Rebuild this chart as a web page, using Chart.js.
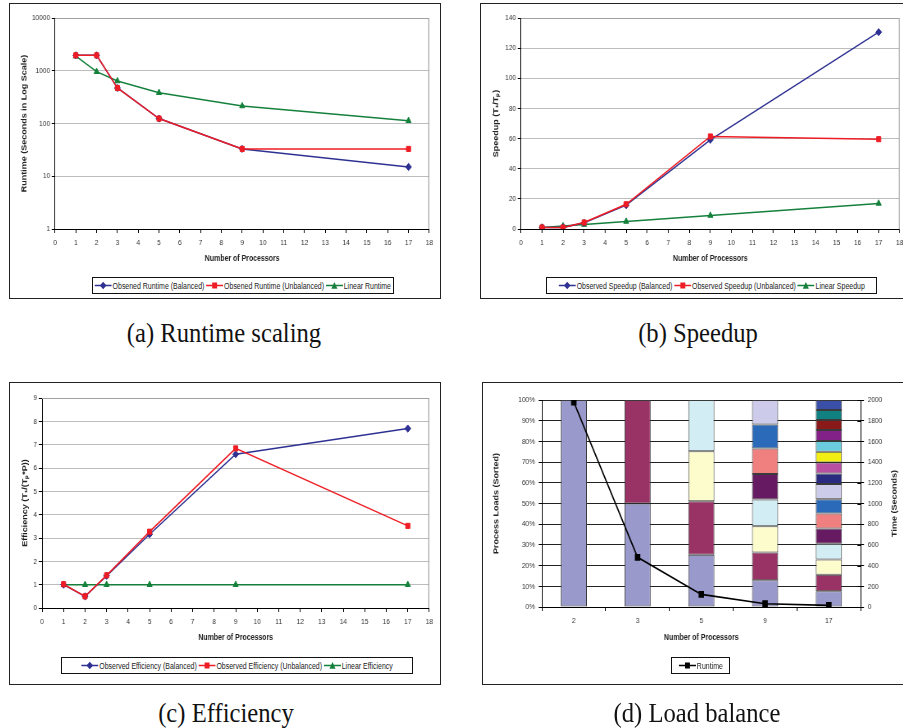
<!DOCTYPE html>
<html><head><meta charset="utf-8">
<script src="https://cdn.jsdelivr.net/npm/chart.js@4.4.1/dist/chart.umd.min.js"></script>
<style>
html,body{margin:0;padding:0;background:#fff;width:903px;height:728px;overflow:hidden;position:relative;}
.frame{position:absolute;border:1px solid #222;box-sizing:border-box;}
canvas{position:absolute;display:block;}
.legend{position:absolute;border:1px solid #111;box-sizing:border-box;display:flex;align-items:center;justify-content:center;background:#fff;}
.legend .inner{display:flex;align-items:center;white-space:nowrap;font:8.5px 'Liberation Sans',Arial,sans-serif;color:#222;transform:scaleX(0.82);transform-origin:center;flex:none;}
.legend .item{display:flex;align-items:center;margin:0 1px;}
.legend svg{margin-right:1px;}
.caption{position:absolute;font:28px 'Liberation Serif','Times New Roman',serif;line-height:32px;color:#111;white-space:nowrap;transform:translateX(-50%) scaleX(0.88);transform-origin:center;}
</style></head><body>
<div class="frame" style="left:9px;top:3px;width:432px;height:296px"></div>
<div class="frame" style="left:480px;top:3px;width:450px;height:296px"></div>
<div class="frame" style="left:9px;top:382px;width:432px;height:303px"></div>
<div class="frame" style="left:482px;top:382px;width:450px;height:303px"></div>
<canvas id="cA"></canvas>
<canvas id="cB"></canvas>
<canvas id="cC"></canvas>
<canvas id="cD"></canvas>
<div class="legend" id="lA" style="left:92px;top:277px;width:302px;height:17px"></div>
<div class="legend" id="lB" style="left:546px;top:277px;width:331px;height:17px"></div>
<div class="legend" id="lC" style="left:61px;top:657px;width:352px;height:17px"></div>
<div class="legend" id="lD" style="left:671px;top:657px;width:59px;height:17px"></div>
<div class="caption" style="left:224px;top:317px">(a) Runtime scaling</div>
<div class="caption" style="left:698px;top:317px">(b) Speedup</div>
<div class="caption" style="left:226px;top:697px">(c) Efficiency</div>
<div class="caption" style="left:697px;top:697px">(d) Load balance</div>
<script>
// ---------- data ----------
const processors = [1, 2, 3, 5, 9, 17];

const runtimeBalanced   = [1960, 1960, 471, 124, 33, 15];
const runtimeUnbalanced = [1960, 1960, 471, 124, 33, 33];
const runtimeLinear     = [1900, 960, 640, 384, 215, 113];
const runtimeTicks = [1, 10, 100, 1000, 10000];
const runtimeNames = ['Obsened Runtime (Balanced)', 'Obsened Runtime (Unbalanced)', 'Linear Runtime'];

const speedupBalanced   = [1, 1, 4.1, 15.8, 59.2, 130.6];
const speedupUnbalanced = [1, 1, 4.3, 16.4, 61.4, 59.6];
const speedupLinear     = [1, 2, 3, 5, 9, 17];
const speedupNames = ['Observed Speedup (Balanced)', 'Observed Speedup (Unbalanced)', 'Linear Speedup'];

const efficiencyBalanced   = [1, 0.5, 1.38, 3.16, 6.59, 7.69];
const efficiencyUnbalanced = [1.02, 0.5, 1.4, 3.27, 6.84, 3.52];
const efficiencyLinear     = [1, 1, 1, 1, 1, 1];
const efficiencyNames = ['Observed Efficiency (Balanced)', 'Observed Efficiency (Unbalanced)', 'Linear Efficiency'];

const loadCategories = ['2', '3', '5', '9', '17'];
const loads2  = [100];
const loads3  = [50, 50];
const loads5  = [25.3, 25.8, 24.2, 24.7];
const loads9  = [12.9, 13.4, 12.7, 12.9, 12.3, 12.4, 11.6, 11.8];
const loads17 = [7.6, 8.0, 7.4, 7.6, 7.3, 7.3, 6.9, 7.3, 5.1, 5.3, 5.2, 5.2, 5.3, 4.8, 4.9, 4.8];
const loadRuntime = [1980, 480, 122, 32, 16];
const loadRuntimeName = 'Runtime';

const xTitle = 'Number of Processors';

// ---------- styles ----------
const K = 0.82; // horizontal squeeze of every panel
const FONT = "'Liberation Sans',Arial,sans-serif";
const BLUE = '#2e3192', RED = '#ee1c24', GREEN = '#14803c';
const segColors = ['#9999cc','#993366','#fcfccc','#d2edf3','#661a62','#f08080','#2a6ab8','#ccccea',
                   '#2a2a80','#b84fa0','#f2ee14','#6accdc','#822288','#8a1a1a','#108080','#3a50a8'];

// ---------- plugins ----------
const plotBorder = {
  id: 'plotBorder',
  beforeDatasetsDraw(chart) {
    const {ctx, chartArea: a} = chart;
    ctx.save();
    ctx.strokeStyle = '#a0a0a0'; ctx.lineWidth = 1.2;
    const l = a.left, r = a.right - 0.6, t = Math.round(a.top) + 0.5, b = a.bottom;
    ctx.beginPath(); ctx.moveTo(l, t); ctx.lineTo(r, t); ctx.lineTo(r, b); ctx.stroke();
    ctx.restore();
  }
};
const rightAxisExtras = {
  id: 'rightAxisExtras',
  afterDraw(chart) {
    const s = chart.scales.y2; if (!s) return;
    const {ctx, chartArea: a} = chart;
    ctx.save();
    ctx.strokeStyle = '#000'; ctx.lineWidth = 1;
    s.ticks.forEach(t => {
      const y = Math.round(s.getPixelForValue(t.value)) + 0.5;
      ctx.beginPath(); ctx.moveTo(a.right - 4, y); ctx.lineTo(a.right, y); ctx.stroke();
    });
    ctx.translate(a.right + 34 / K, (a.top + a.bottom) / 2);
    ctx.rotate(-Math.PI / 2);
    ctx.fillStyle = '#222';
    ctx.font = 'bold 9px ' + FONT;
    ctx.textAlign = 'center'; ctx.textBaseline = 'middle';
    ctx.fillText(s.options.title.text, 0, 0);
    ctx.restore();
  }
};

// ---------- helpers ----------
// cv: canvas rect on page, returns canvas whose internal width is stretched by 1/K
function place(id, cv) {
  const c = document.getElementById(id);
  const wi = Math.round(cv.w / K);
  c.style.left = cv.x + 'px'; c.style.top = cv.y + 'px';
  c.style.width = cv.w + 'px'; c.style.height = cv.h + 'px';
  c.width = wi; c.height = cv.h;
  return c;
}
const ix = (cv, px) => (px - cv.x) / K; // page x -> internal canvas x

function pts(ys) { return processors.map((p, i) => ({x: p, y: ys[i]})); }
function series(label, ys, color, shape, order) {
  return {label, data: pts(ys), borderColor: color, backgroundColor: color,
    borderWidth: 1.5, pointStyle: shape, pointRadius: 3.6, pointBorderWidth: 1,
    pointBackgroundColor: color, pointBorderColor: color, tension: 0, order};
}
function lineChart(id, cv, area, datasets, yOpts, yTitle, yTitleX) {
  const xH = 36;
  const canvas = place(id, cv);
  const wi = canvas.width;
  const left = ix(cv, area.x0), right = ix(cv, area.x1);
  return new Chart(canvas, {
    type: 'line',
    data: {datasets},
    options: {
      responsive: false, animation: false, devicePixelRatio: 1,
      layout: {padding: {left: 0, top: area.y0 - cv.y, right: wi - right, bottom: cv.y + cv.h - area.y1 - xH}},
      plugins: {legend: {display: false}, tooltip: {enabled: false}},
      scales: {
        x: {type: 'linear', min: 0, max: 18,
          ticks: {stepSize: 1, padding: 5, autoSkip: false, maxRotation: 0, color: '#333', font: {family: FONT, size: 8}},
          grid: {drawOnChartArea: false, tickLength: 4, tickColor: '#000'},
          border: {color: '#000'},
          title: {display: true, text: xTitle, color: '#222', font: {family: FONT, size: 8.5, weight: 'bold'}, padding: {top: 0, bottom: 1}},
          afterFit: s => { s.height = xH; }},
        y: Object.assign({
          ticks: Object.assign({padding: 2, color: '#333', font: {family: FONT, size: 8}}, yOpts.ticks || {}),
          grid: {color: c => c.index === 0 ? 'rgba(0,0,0,0)' : '#bdbdbd', tickColor: '#000', tickLength: 4},
          border: {color: '#000'},
          title: {display: true, text: yTitle, color: '#222', font: {family: FONT, size: 9, weight: 'bold'},
                  padding: {top: ix(cv, yTitleX) - 5.4, bottom: 0}},
          afterFit: s => { s.width = left; }
        }, yOpts.scale)
      }
    },
    plugins: [plotBorder]
  });
}
function marker(color, shape) {
  let m = '';
  if (shape === 'rectRot') m = `<polygon points="10.5,0.8 14.5,4.5 10.5,8.2 6.5,4.5" fill="${color}"/>`;
  else if (shape === 'rect') m = `<rect x="7.5" y="1.5" width="6" height="6" fill="${color}"/>`;
  else m = `<polygon points="10.5,1 14.2,7.8 6.8,7.8" fill="${color}"/>`;
  return `<svg width="21" height="9" viewBox="0 0 21 9"><line x1="0" y1="4.5" x2="21" y2="4.5" stroke="${color}" stroke-width="1.5"/>${m}</svg>`;
}
function legend(id, items) {
  const el = document.getElementById(id);
  const inner = document.createElement('div');
  inner.className = 'inner';
  items.forEach(it => {
    const s = document.createElement('span');
    s.className = 'item';
    s.innerHTML = marker(it.color, it.shape) + '<span>' + it.label + '</span>';
    inner.appendChild(s);
  });
  el.appendChild(inner);
}
const shapes = ['rectRot', 'rect', 'triangle'];
const colors = [BLUE, RED, GREEN];

// ---------- (a) runtime ----------
lineChart('cA', {x: 10, y: 4, w: 430, h: 294}, {x0: 55, x1: 429, y0: 18, y1: 229}, [
  series(runtimeNames[0], runtimeBalanced, BLUE, 'rectRot', 1),
  series(runtimeNames[1], runtimeUnbalanced, RED, 'rect', 0),
  series(runtimeNames[2], runtimeLinear, GREEN, 'triangle', 2)
], {scale: {type: 'logarithmic', min: 1, max: 10000,
            afterBuildTicks: s => { s.ticks = runtimeTicks.map(v => ({value: v})); }},
    ticks: {callback: v => String(v)}},
  'Runtime (Seconds in Log Scale)', 24);
legend('lA', runtimeNames.map((l, i) => ({label: l, color: colors[i], shape: shapes[i]})));

// ---------- (b) speedup ----------
lineChart('cB', {x: 481, y: 4, w: 440, h: 294}, {x0: 521, x1: 900, y0: 18, y1: 229}, [
  series(speedupNames[0], speedupBalanced, BLUE, 'rectRot', 1),
  series(speedupNames[1], speedupUnbalanced, RED, 'rect', 0),
  series(speedupNames[2], speedupLinear, GREEN, 'triangle', 2)
], {scale: {type: 'linear', min: 0, max: 140}, ticks: {stepSize: 20}},
  'Speedup (T\u2081/T\u209A)', 496);
legend('lB', speedupNames.map((l, i) => ({label: l, color: colors[i], shape: shapes[i]})));

// ---------- (c) efficiency ----------
lineChart('cC', {x: 10, y: 383, w: 430, h: 300}, {x0: 42, x1: 429, y0: 398, y1: 608}, [
  series(efficiencyNames[0], efficiencyBalanced, BLUE, 'rectRot', 1),
  series(efficiencyNames[1], efficiencyUnbalanced, RED, 'rect', 0),
  series(efficiencyNames[2], efficiencyLinear, GREEN, 'triangle', 2)
], {scale: {type: 'linear', min: 0, max: 9}, ticks: {stepSize: 1}},
  'Efficiency (T\u2081/(T\u209A*P))', 25);
legend('lC', efficiencyNames.map((l, i) => ({label: l, color: colors[i], shape: shapes[i]})));

// ---------- (d) load balance ----------
(function () {
  const cv = {x: 482, y: 383, w: 440, h: 300};
  const area = {x0: 542, x1: 861, y0: 400, y1: 607};
  const xH = 37, y2W = 45 / K;
  const canvas = place('cD', cv);
  const wi = canvas.width;
  const left = ix(cv, area.x0), right = ix(cv, area.x1);
  const perBar = [loads2, loads3, loads5, loads9, loads17];
  const nSeg = loads17.length;
  const datasets = [];
  for (let i = 0; i < nSeg; i++) {
    datasets.push({type: 'bar', label: 'Process ' + (i + 1),
      data: perBar.map(b => (b[i] === undefined ? null : b[i])),
      backgroundColor: segColors[i], borderColor: '#3a3a3a', borderWidth: 1, borderSkipped: false,
      barPercentage: 0.41, categoryPercentage: 1, yAxisID: 'y', order: 1});
  }
  datasets.push({type: 'line', label: loadRuntimeName, data: loadRuntime, yAxisID: 'y2',
    borderColor: '#000', backgroundColor: '#000', borderWidth: 1.6, pointStyle: 'rect',
    pointRadius: 3.6, pointBackgroundColor: '#000', pointBorderColor: '#000', tension: 0, order: 0});
  new Chart(canvas, {
    type: 'bar',
    data: {labels: loadCategories, datasets},
    options: {
      responsive: false, animation: false, devicePixelRatio: 1,
      layout: {padding: {left: 0, top: area.y0 - cv.y, right: wi - right - y2W, bottom: cv.y + cv.h - area.y1 - xH}},
      plugins: {legend: {display: false}, tooltip: {enabled: false}},
      scales: {
        x: {stacked: true,
          ticks: {padding: 5, color: '#333', font: {family: FONT, size: 8}},
          grid: {offset: true, drawOnChartArea: false, tickLength: 4, tickColor: '#000'},
          border: {color: '#000'},
          title: {display: true, text: xTitle, color: '#222', font: {family: FONT, size: 8.5, weight: 'bold'}, padding: {top: 0, bottom: 1}},
          afterFit: s => { s.height = xH; }},
        y: {stacked: true, min: 0, max: 100,
          ticks: {stepSize: 10, padding: 4.5, color: '#333', font: {family: FONT, size: 8}, callback: v => v + '%'},
          grid: {color: c => c.index === 0 ? 'rgba(0,0,0,0)' : '#222', tickColor: '#000', tickLength: 4},
          border: {color: '#000'},
          title: {display: true, text: 'Process Loads (Sorted)', color: '#222', font: {family: FONT, size: 9, weight: 'bold'},
                  padding: {top: ix(cv, 496) - 5.4, bottom: 0}},
          afterFit: s => { s.width = left; }},
        y2: {position: 'right', min: 0, max: 2000,
          ticks: {stepSize: 200, padding: 4.5, color: '#333', font: {family: FONT, size: 8}, callback: v => String(v)},
          grid: {drawOnChartArea: false, tickLength: 4, tickColor: '#000'},
          border: {color: '#000'},
          title: {display: false, text: 'Time (Seconds)'},
          afterFit: s => { s.width = y2W; }}
      }
    },
    plugins: [rightAxisExtras]
  });
})();
legend('lD', [{label: loadRuntimeName, color: '#000', shape: 'rect'}]);
</script>
</body></html>
